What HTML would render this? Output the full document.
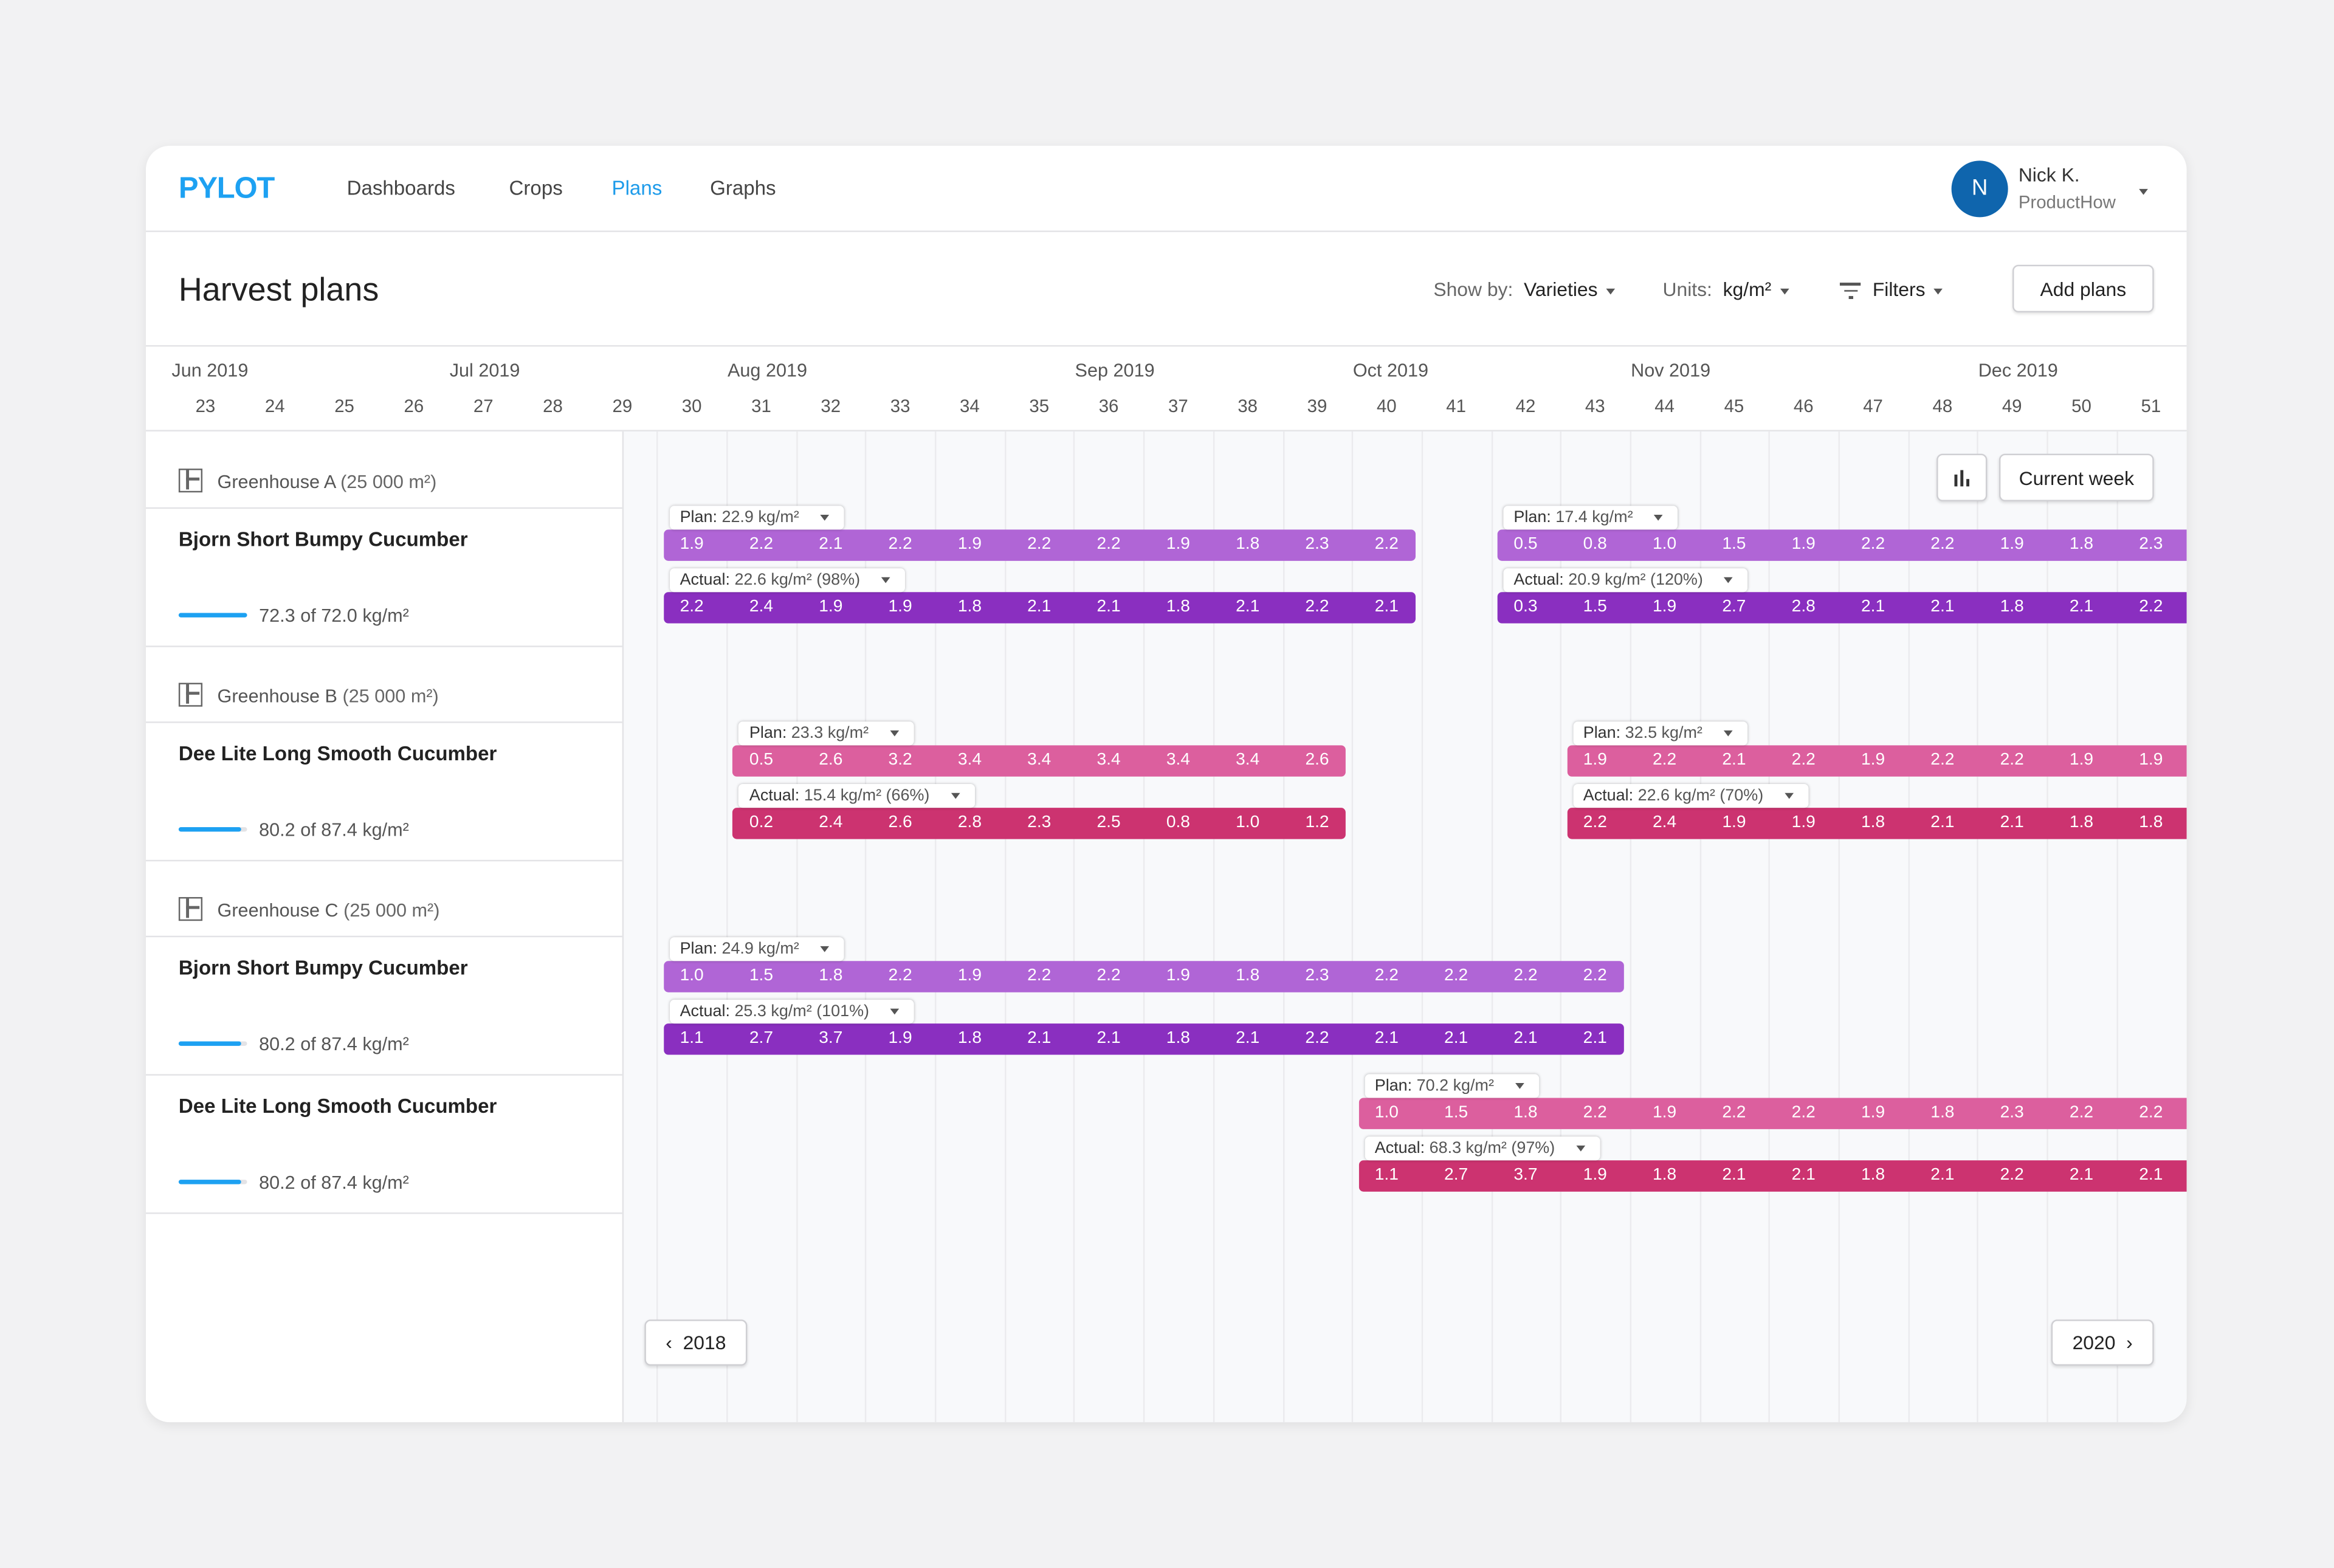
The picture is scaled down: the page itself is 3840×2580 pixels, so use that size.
<!DOCTYPE html>
<html><head><meta charset="utf-8"><style>
html,body{margin:0;padding:0;width:3840px;height:2580px;overflow:hidden;background:#f2f2f3;}
#s{position:absolute;left:0;top:0;width:1568px;height:1054px;transform-origin:0 0;transform:scale(2.44898,2.44782);font-family:"Liberation Sans",sans-serif;color:#222;}
.card{position:absolute;left:98px;top:98px;width:1371px;height:858px;background:#fff;border-radius:16px;box-shadow:0 2px 8px rgba(0,0,0,.08);overflow:hidden;}
.a{position:absolute;white-space:nowrap;}
.hl{position:absolute;left:0;height:1px;background:#e3e3e6;}
.btn{position:absolute;border:1px solid #cfcfd3;border-radius:4px;background:#fff;box-shadow:0 1px 2px rgba(0,0,0,.12);font-size:13px;color:#222;display:flex;align-items:center;justify-content:center;}
.tag{position:absolute;height:16px;background:#fff;border-radius:3px;box-shadow:0 0 2px rgba(0,0,0,.25);font-size:11px;color:#555;line-height:16px;padding-left:7px;box-sizing:border-box;}
.bar{position:absolute;height:21px;border-radius:3px;}
.v{position:absolute;font-size:11.5px;color:#fff;line-height:21px;top:0;transform:translateX(-50%);}
.caret{display:inline-block;width:0;height:0;border-left:3px solid transparent;border-right:3px solid transparent;border-top:4px solid #555;vertical-align:middle;margin-left:6px;}
.gh{font-size:12.5px;color:#555;}
.var{font-size:13.5px;font-weight:bold;color:#222;}
.prog{position:absolute;height:3px;border-radius:2px;background:#e3e3e6;width:46px;}
.prog i{position:absolute;left:0;top:0;height:3px;border-radius:2px;background:#1da1f2;}
</style></head><body><div id="s">
<div class="card">
 <div class="a" style="left:22px;top:18px;font-size:20px;font-weight:900;color:#1da1f2;letter-spacing:-0.5px;">PYLOT</div>
 <div class="a" style="left:135px;top:21px;font-size:13.5px;color:#444;">Dashboards</div>
 <div class="a" style="left:244px;top:21px;font-size:13.5px;color:#444;">Crops</div>
 <div class="a" style="left:313px;top:21px;font-size:13.5px;color:#1d9bea;">Plans</div>
 <div class="a" style="left:379px;top:21px;font-size:13.5px;color:#444;">Graphs</div>
 <div class="a" style="left:1213px;top:10px;width:38px;height:38px;border-radius:50%;background:#0f65ad;color:#fff;font-size:15px;text-align:center;line-height:38px;">N</div>
 <div class="a" style="left:1258px;top:12px;font-size:13px;color:#333;">Nick K.</div>
 <div class="a" style="left:1258px;top:31px;font-size:12px;color:#777;">ProductHow</div>
 <div class="a" style="left:1333px;top:22px;"><span class="caret"></span></div>
 <div class="hl" style="top:57px;width:1371px;"></div>
 <div class="a" style="left:22px;top:84px;font-size:22px;color:#222;">Harvest plans</div>
 <div class="a" style="left:865px;top:89px;font-size:13px;color:#666;">Show by:&nbsp; <b style="color:#222;font-weight:normal;">Varieties</b><span class="caret"></span></div>
 <div class="a" style="left:1019px;top:89px;font-size:13px;color:#666;">Units:&nbsp; <span style="color:#222;">kg/m²</span><span class="caret"></span></div>
 <div class="a" style="left:1138px;top:89px;font-size:13px;color:#222;"><span style="display:inline-block;width:14px;vertical-align:middle;margin-right:8px;"><span style="display:block;height:1.5px;background:#555;width:14px;margin-bottom:3px"></span><span style="display:block;height:1.5px;background:#555;width:9px;margin:0 auto 3px"></span><span style="display:block;height:1.5px;background:#555;width:3px;margin:0 auto"></span></span>Filters<span class="caret"></span></div>
 <div class="btn" style="left:1254px;top:80px;width:93px;height:30px;">Add plans</div>
 <div class="hl" style="top:134px;width:1371px;"></div>
 <div id="hdr"></div>
 <div class="hl" style="top:191px;width:1371px;"></div>
 <div class="a" style="left:320px;top:192px;width:1051px;height:666px;background:#f8f9fb;border-left:1px solid #e3e3e6;"></div>
 <div id="grid"></div>
 <div id="rows"></div>
 <div id="bars"></div>
 <div class="btn" style="left:1203px;top:207px;width:32px;height:30px;"><svg width="12" height="12"><rect x="1" y="4" width="2" height="8" fill="#333"/><rect x="5" y="1" width="2" height="11" fill="#333"/><rect x="9" y="7" width="2" height="5" fill="#333"/></svg></div>
 <div class="btn" style="left:1245px;top:207px;width:102px;height:30px;">Current week</div>
 <div class="btn" style="left:335px;top:789px;width:67px;height:29px;">‹&nbsp; 2018</div>
 <div class="btn" style="left:1280px;top:789px;width:67px;height:29px;">2020 &nbsp;›</div>
</div>
</div>
<script>
const weeks=[23,24,25,26,27,28,29,30,31,32,33,34,35,36,37,38,39,40,41,42,43,44,45,46,47,48,49,50,51];
const months=["Jun 2019","Jul 2019","Aug 2019","Sep 2019","Oct 2019","Nov 2019","Dec 2019"];
const monthWeek=[22.6,26.6,30.6,35.6,39.6,43.6,48.6];
const plans=[
 {row:0,start:30,color:"#b065d6",label:"Plan: 22.9 kg/m²",vals:[1.9,2.2,2.1,2.2,1.9,2.2,2.2,1.9,1.8,2.3,2.2]},
 {row:1,start:30,color:"#8a2fc0",label:"Actual: 22.6 kg/m² (98%)",vals:[2.2,2.4,1.9,1.9,1.8,2.1,2.1,1.8,2.1,2.2,2.1]},
 {row:0,start:42,color:"#b065d6",label:"Plan: 17.4 kg/m²",vals:[0.5,0.8,1.0,1.5,1.9,2.2,2.2,1.9,1.8,2.3]},
 {row:1,start:42,color:"#8a2fc0",label:"Actual: 20.9 kg/m² (120%)",vals:[0.3,1.5,1.9,2.7,2.8,2.1,2.1,1.8,2.1,2.2]},
 {row:2,start:31,color:"#dc5f9e",label:"Plan: 23.3 kg/m²",vals:[0.5,2.6,3.2,3.4,3.4,3.4,3.4,3.4,2.6]},
 {row:3,start:31,color:"#cc3370",label:"Actual: 15.4 kg/m² (66%)",vals:[0.2,2.4,2.6,2.8,2.3,2.5,0.8,1.0,1.2]},
 {row:2,start:43,color:"#dc5f9e",label:"Plan: 32.5 kg/m²",vals:[1.9,2.2,2.1,2.2,1.9,2.2,2.2,1.9,1.9]},
 {row:3,start:43,color:"#cc3370",label:"Actual: 22.6 kg/m² (70%)",vals:[2.2,2.4,1.9,1.9,1.8,2.1,2.1,1.8,1.8]},
 {row:4,start:30,color:"#b065d6",label:"Plan: 24.9 kg/m²",vals:[1.0,1.5,1.8,2.2,1.9,2.2,2.2,1.9,1.8,2.3,2.2,2.2,2.2,2.2]},
 {row:5,start:30,color:"#8a2fc0",label:"Actual: 25.3 kg/m² (101%)",vals:[1.1,2.7,3.7,1.9,1.8,2.1,2.1,1.8,2.1,2.2,2.1,2.1,2.1,2.1]},
 {row:6,start:40,color:"#dc5f9e",label:"Plan: 70.2 kg/m²",vals:[1.0,1.5,1.8,2.2,1.9,2.2,2.2,1.9,1.8,2.3,2.2,2.2]},
 {row:7,start:40,color:"#cc3370",label:"Actual: 68.3 kg/m² (97%)",vals:[1.1,2.7,3.7,1.9,1.8,2.1,2.1,1.8,2.1,2.2,2.1,2.1]}
];
const barTops=[258,300,403,445,548,590,640,682];
const sections=[
 {gh:"Greenhouse A",variety:"Bjorn Short Bumpy Cucumber",prog:"72.3 of 72.0 kg/m²",pct:1},
 {gh:"Greenhouse B",variety:"Dee Lite Long Smooth Cucumber",prog:"80.2 of 87.4 kg/m²",pct:0.92},
 {gh:"Greenhouse C",variety:"Bjorn Short Bumpy Cucumber",prog:"80.2 of 87.4 kg/m²",pct:0.92},
 {gh:null,variety:"Dee Lite Long Smooth Cucumber",prog:"80.2 of 87.4 kg/m²",pct:0.92}
];
const X=w=>40+(w-23)*46.68; // card-relative center of week
const lastWeek=weeks[weeks.length-1];
const hdr=document.getElementById('hdr');
months.forEach((m,i)=>{const d=document.createElement('div');d.className='a';


d.style.cssText=`left:${X(monthWeek[i])-4}px;top:144px;font-size:12.5px;color:#555;`;d.textContent=m;hdr.appendChild(d);});
weeks.forEach(w=>{const d=document.createElement('div');d.className='a';


d.style.cssText=`left:${X(w)-10}px;width:20px;text-align:center;top:168px;font-size:12px;color:#555;`;d.textContent=w;hdr.appendChild(d);});
const grid=document.getElementById('grid');
weeks.forEach(w=>{const x=X(w)+23.3;if(x<322||x>1370)return;const d=document.createElement('div');d.className='a';


d.style.cssText=`left:${x}px;top:192px;width:1px;height:666px;background:#ebebee;`;grid.appendChild(d);});
const rows=document.getElementById('rows');let y=192;
sections.forEach(s=>{
 if(s.gh){const g=document.createElement('div');g.className='a gh';
 
 
 g.style.cssText=`left:22px;top:${y+25}px;`;
 g.innerHTML=`<span style="display:inline-block;width:16px;height:16px;border:1.5px solid #666;box-sizing:border-box;vertical-align:-3px;margin-right:10px;position:relative;"><span style="position:absolute;left:4px;top:0;width:1.5px;height:13px;background:#666"></span><span style="position:absolute;left:4px;top:5px;width:9px;height:1.5px;background:#666"></span></span>${s.gh} <span style="color:#666">(25 000 m²)</span>`;
 rows.appendChild(g);y+=51;const l=document.createElement('div');l.className='hl';l.style.cssText=`top:${y}px;width:320px;`;rows.appendChild(l);}
 const v=document.createElement('div');v.className='a var';
 
 
 v.style.cssText=`left:22px;top:${y+14}px;`;v.textContent=s.variety;rows.appendChild(v);
 const p=document.createElement('div');p.className='prog';
 
 
 p.style.cssText=`left:22px;top:${y+71}px;`;p.innerHTML=`<i style="width:${46*s.pct}px"></i>`;rows.appendChild(p);
 const t=document.createElement('div');t.className='a';
 
 
 t.style.cssText=`left:76px;top:${y+66}px;font-size:12.5px;color:#555;`;t.textContent=s.prog;rows.appendChild(t);
 y+=93;const l=document.createElement('div');l.className='hl';l.style.cssText=`top:${y}px;width:320px;`;rows.appendChild(l);
});
const bars=document.getElementById('bars');
plans.forEach(p=>{
 const endW=p.start+p.vals.length-1;
 const left=X(p.start)-19,right=endW>=lastWeek?1400:X(endW)+19,top=barTops[p.row];
 const b=document.createElement('div');b.className='bar';
 
 
 b.style.cssText=`left:${left}px;top:${top}px;width:${right-left}px;background:${p.color};`;
 p.vals.forEach((v,i)=>{const s=document.createElement('span');s.className='v';
 
 
 s.style.left=(X(p.start+i)-left)+'px';s.textContent=v.toFixed(1);b.appendChild(s);});
 bars.appendChild(b);
 const t=document.createElement('div');t.className='tag';
 
 
 t.style.cssText=`left:${left+4}px;top:${top-16}px;padding-right:10px;`;
 const i=p.label.indexOf(':');
 t.innerHTML=`<span style="color:#333">${p.label.slice(0,i+1)}</span>${p.label.slice(i+1)}<span class="caret" style="margin-left:14px"></span>`;
 bars.appendChild(t);
});
</script>
</body></html>
